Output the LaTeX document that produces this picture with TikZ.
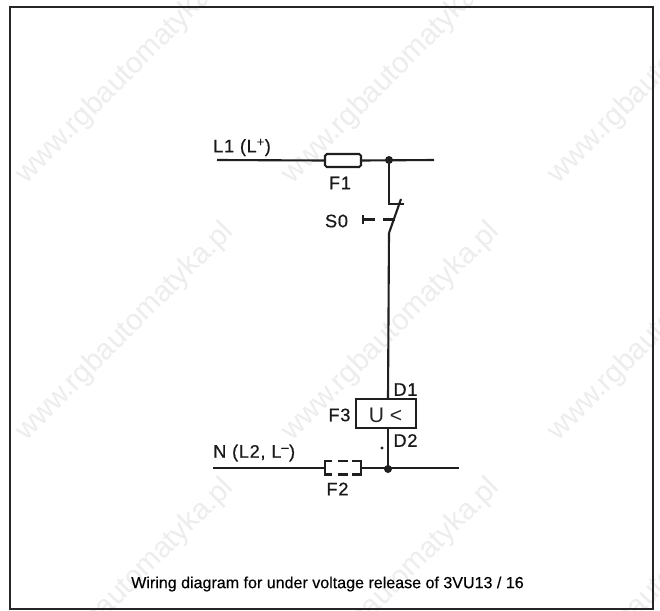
\documentclass[tikz,border=0pt]{standalone}
\usepackage{fontspec}
\setmainfont{Liberation Sans}
\newfontfamily\din[LetterSpace=4,FakeBold=0.6]{Liberation Sans}
\newfontfamily\capt[FakeBold=0.3]{Liberation Sans}
\tikzset{
wire/.style={line width=1.8pt,black!88},
lab/.style={inner sep=0pt,black!90,font=\din\fontsize{15.5}{18}\selectfont},
wmk/.style={rotate=45,inner sep=0pt,black!7,font=\fontsize{25}{28}\selectfont},
}
\begin{document}
\begin{tikzpicture}[x=.03cm,y=-.03cm]
\useasboundingbox (0,0) rectangle (660,611);
\fill[white] (0,0) rectangle (660,611);
\node[wmk] (wa) at (125,75){www.rgbautomatyka.pl};
\node[wmk] (wb) at (391,75){www.rgbautomatyka.pl};
\node[wmk] (wc) at (657,75){www.rgbautomatyka.pl};
\node[wmk] (wd) at (125,332){www.rgbautomatyka.pl};
\node[wmk] (we) at (391,332){www.rgbautomatyka.pl};
\node[wmk] (wf) at (657,332){www.rgbautomatyka.pl};
\node[wmk] (wg) at (125,588){www.rgbautomatyka.pl};
\node[wmk] (wh) at (391,588){www.rgbautomatyka.pl};
\node[wmk] (wi) at (657,588){www.rgbautomatyka.pl};
\draw[line width=1.9pt,black!85] (10,7) rectangle (653,609);
% phase line
\coordinate (la) at (217,160);
\coordinate (lb) at (434,160);
\coordinate (ja) at (389,160);
\node[draw,wire,rounded corners=1.5pt,minimum width=.03cm*36,minimum height=.03cm*13,inner sep=0pt,fill=white] (fa) at (343,160.5){};
\draw[wire] (la)--(fa.west);
\draw[wire] (fa.east)--(lb);
\fill[black!88] (ja) circle (4);
\node[lab,anchor=west] (tla) at (213,147.5){L1 (L\textsuperscript{+})};
\node[lab] (tfa) at (340,183){F1};
% contact
\coordinate (sa) at (389,204);
\coordinate (sb) at (404,204);
\coordinate (sc) at (401,199);
\coordinate (sd) at (389,233);
\draw[wire] (ja)--(sa)--(sb);
\draw[wire] (sc)--(sd);
\node[lab] (tsa) at (336.5,221){S0};
\coordinate (pa) at (363,219.5);
\coordinate (pb) at (375,219.5);
\coordinate (pc) at (383,219.5);
\coordinate (pd) at (395,219.5);
\coordinate (pe) at (363,215);
\coordinate (pf) at (363,224);
\draw[wire] (pa)--(pb);
\draw[wire] (pc)--(pd);
\draw[wire] (pe)--(pf);
% release
\node[draw,wire,minimum width=.03cm*60,minimum height=.03cm*29,inner sep=0pt] (rel) at (386,413.5){};
\node[inner sep=0pt,black!85,font=\fontsize{18}{20}\selectfont] (tu) at (385.5,415){U <};
\coordinate (ra) at (388,399);
\coordinate (rb) at (388,428);
\draw[wire] (sd)--(ra);
\node[lab] (tda) at (405.5,389.5){D1};
\node[lab] (tdb) at (405.5,440.5){D2};
\node[lab] (tfc) at (339.5,415){F3};
\fill[black!88] (382,448) circle (1.7);
% neutral line
\coordinate (na) at (213,468);
\coordinate (nb) at (459,468);
\coordinate (jb) at (388,469);
\coordinate (fba) at (325,468);
\coordinate (fbb) at (361,468);
\draw[wire] (na)--(fba);
\draw[wire] (fbb)--(nb);
\draw[wire] (rb)--(jb);
\fill[black!88] (jb) circle (4);
\coordinate (ga) at (332,461);
\coordinate (gb) at (325,461);
\coordinate (gc) at (325,474.5);
\coordinate (gd) at (332,474.5);
\coordinate (ge) at (352,461);
\coordinate (gf) at (361,461);
\coordinate (gg) at (361,474.5);
\coordinate (gh) at (352,474.5);
\draw[wire] (ga)--(gb)--(gc)--(gd);
\draw[wire] (ge)--(gf)--(gg)--(gh);
\coordinate (ha) at (338,461);
\coordinate (hb) at (348,461);
\coordinate (hc) at (338,474.5);
\coordinate (hd) at (348,474.5);
\draw[wire] (ha)--(hb);
\draw[wire] (hc)--(hd);
\node[lab,anchor=west] (tna) at (213,453){N (L2, L\textsuperscript{–})};
\node[lab] (tfb) at (337.5,489){F2};
\node[inner sep=0pt,black,font=\capt\fontsize{13.7}{16}\selectfont] (cap) at (327.5,584){Wiring diagram for under voltage release of 3VU13 / 16};
\end{tikzpicture}
\end{document}
